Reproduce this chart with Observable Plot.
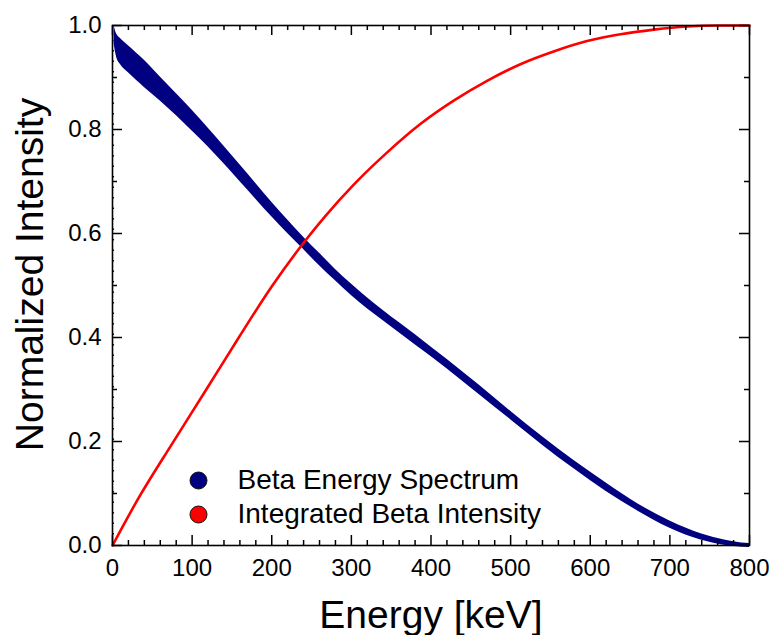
<!DOCTYPE html>
<html>
<head>
<meta charset="utf-8">
<script src="https://cdn.jsdelivr.net/npm/d3@7"></script>
<script src="https://cdn.jsdelivr.net/npm/@observablehq/plot@0.6"></script>
<style>
  html, body { margin: 0; padding: 0; background: #fff; }
  #chart svg { display: block; }
</style>
</head>
<body>
<div id="chart"></div>
<script>
// Measured beta spectrum: band centre and half-width of the scatter (normalized)
const specEnergy = [2, 5, 10, 20, 40, 60, 80, 100, 120, 140, 160, 180, 200, 220, 240, 260, 280, 300,
                    340, 380, 420, 460, 500, 540, 580, 620, 660, 700, 740, 770, 790, 800];
const specIntensity = [0.985, 0.962, 0.950, 0.935, 0.907, 0.878, 0.848, 0.817, 0.785, 0.751, 0.716, 0.681,
                       0.646, 0.613, 0.581, 0.550, 0.520, 0.492, 0.442, 0.396, 0.349, 0.300, 0.250, 0.201,
                       0.155, 0.112, 0.073, 0.040, 0.016, 0.005, 0.001, 0.000];
const specSpread = [0.020, 0.022, 0.025, 0.026, 0.026, 0.023, 0.021, 0.020, 0.018, 0.017, 0.016, 0.015,
                    0.014, 0.013, 0.012, 0.012, 0.011, 0.011, 0.010, 0.010, 0.009, 0.009, 0.008, 0.008,
                    0.008, 0.008, 0.007, 0.007, 0.006, 0.005, 0.004, 0.004];

// Cumulative (integrated) intensity
const intEnergy = [0, 33, 75, 117, 159, 200, 242, 267, 303, 345, 387, 429, 471, 513, 554, 596, 638, 680, 722, 760, 800];
const intIntensity = [0, 0.092, 0.196, 0.298, 0.401, 0.498, 0.586, 0.633, 0.694, 0.756, 0.811, 0.856, 0.894,
                      0.926, 0.950, 0.970, 0.983, 0.992, 0.998, 1.000, 1.000];

// Low-energy channel: counts scattered along the first bin
const firstBinEnergy = [1];
const firstBinTop = [0.97];

// Ticks and legend
const xMajor = [0, 100, 200, 300, 400, 500, 600, 700, 800];
const xMinor = d3.range(0, 801, 20).filter(v => v % 100 !== 0);
const yMajor = [0, 0.2, 0.4, 0.6, 0.8, 1.0];
const yMinor = [0.1, 0.3, 0.5, 0.7, 0.9];
const legendLabels = ["Beta Energy Spectrum", "Integrated Beta Intensity"];
const legendColors = ["#000080", "#ff0000"];

const spectrum = specEnergy.map((E, i) => ({E, I: specIntensity[i], s: specSpread[i]}));
const integrated = intEnergy.map((E, i) => ({E, I: intIntensity[i]}));
const firstBin = firstBinEnergy.map((E, i) => ({E, top: firstBinTop[i]}));
const legend = legendLabels.map((label, i) => ({label, color: legendColors[i], row: i}));

const W = 769, H = 635;
const mL = 112, mR = 20, mT = 25, mB = 90;
const innerW = W - mL - mR, innerH = H - mT - mB;
const major = 10, minor = 5;
const font = "'Liberation Sans', Arial, Helvetica, sans-serif";

// legend rows placed inside the plot area, lower left
const legendMarks = legend.map(d => [
  Plot.dot([d], {frameAnchor: "bottom-left", dx: 86, dy: -65 + 34 * d.row, r: 8.5,
                 fill: d.color, stroke: "#111", strokeWidth: 1}),
  Plot.text([d], {text: "label", frameAnchor: "bottom-left", dx: 125, dy: -57 + 34 * d.row,
                  textAnchor: "start", lineAnchor: "bottom", fontSize: 28, fill: "#000"})
]).flat();

const chart = Plot.plot({
  width: W,
  height: H,
  marginLeft: mL,
  marginRight: mR,
  marginTop: mT,
  marginBottom: mB,
  style: {fontFamily: font, background: "#fff", color: "#000"},
  x: {domain: [0, 800]},
  y: {domain: [0, 1]},
  marks: [
    // spectrum scatter band
    Plot.areaY(spectrum, {x: "E", y1: d => d.I - d.s, y2: d => Math.min(1, d.I + d.s),
                          fill: "#000080", curve: "monotone-x"}),
    Plot.ruleX(firstBin, {x: "E", y1: 0, y2: "top", stroke: "#000080", strokeWidth: 1.5,
                          strokeDasharray: "1.5,9"}),
    // integrated intensity
    Plot.line(integrated, {x: "E", y: "I", stroke: "#ff0000", strokeWidth: 2.6, curve: "monotone-x"}),

    // inward ticks on all four sides
    Plot.ruleX(xMajor, {insetTop: innerH - major, stroke: "#000", strokeWidth: 1.5}),
    Plot.ruleX(xMajor, {insetBottom: innerH - major, stroke: "#000", strokeWidth: 1.5}),
    Plot.ruleX(xMinor, {insetTop: innerH - minor, stroke: "#000", strokeWidth: 1.5}),
    Plot.ruleX(xMinor, {insetBottom: innerH - minor, stroke: "#000", strokeWidth: 1.5}),
    Plot.ruleY(yMajor, {insetRight: innerW - major, stroke: "#000", strokeWidth: 1.5}),
    Plot.ruleY(yMajor, {insetLeft: innerW - major, stroke: "#000", strokeWidth: 1.5}),
    Plot.ruleY(yMinor, {insetRight: innerW - minor, stroke: "#000", strokeWidth: 1.5}),
    Plot.ruleY(yMinor, {insetLeft: innerW - minor, stroke: "#000", strokeWidth: 1.5}),
    Plot.frame({stroke: "#000", strokeWidth: 1.6}),

    // tick labels
    Plot.axisX(xMajor, {anchor: "bottom", tickSize: 0, tickPadding: 13, fontSize: 24,
                        tickFormat: d => String(d), label: null}),
    Plot.axisY(yMajor, {anchor: "left", tickSize: 0, tickPadding: 11, fontSize: 24,
                        tickFormat: d3.format(".1f"), label: null}),

    // axis titles
    Plot.text(["Energy [keV]"], {text: d => d, frameAnchor: "bottom", dy: 82, lineAnchor: "bottom",
                                 fontSize: 39, fill: "#000"}),
    Plot.text(["Normalized Intensity"], {text: d => d, frameAnchor: "left", textAnchor: "middle",
                                         rotate: -90, dx: -70, dy: -11,
                                         lineAnchor: "bottom", fontSize: 39, fill: "#000"}),
    ...legendMarks
  ]
});

document.getElementById("chart").append(chart);
</script>
</body>
</html>
